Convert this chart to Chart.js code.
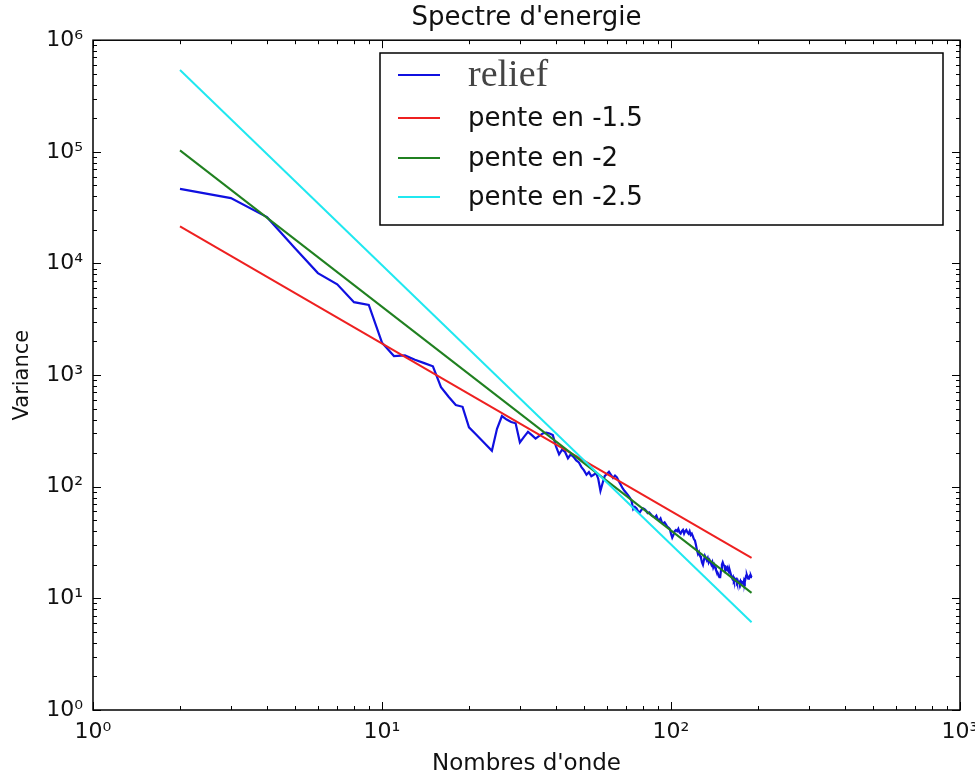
<!DOCTYPE html>
<html>
<head>
<meta charset="utf-8">
<script src="https://cdn.jsdelivr.net/npm/chart.js@4.4.1/dist/chart.umd.min.js"></script>
<style>
  html, body { margin: 0; padding: 0; background: #fff; }
  canvas { display: block; }
</style>
</head>
<body>
<canvas id="spectre" width="975" height="778"></canvas>
<script>
// Spectre du relief : une valeur par nombre d'onde entier, de 2 a 190
const reliefStart = 2;
const reliefValues = [
    46500, 38500, 26000, 13700, 8200, 6500, 4500, 4250, 1950,          // 2-10
    1480, 1500, 1370, 1280, 1200, 780, 640, 540, 520, 340,             // 11-20
    300, 265, 235, 210, 330, 430, 400, 380, 370, 250,                  // 21-30
    280, 310, 290, 270, 285, 300, 305, 300, 290, 230,                  // 31-40
    195, 215, 205, 180, 195, 185, 172, 165, 150, 140,                  // 41-50
    128, 135, 124, 128, 133, 118, 92, 108, 125, 130,                   // 51-60
    136, 128, 120, 126, 121, 112, 104, 97, 92, 88,                     // 61-70
    84, 80, 75, 63, 66, 64, 60, 59, 62, 64,                            // 71-80
    63, 61, 58, 59, 57, 55, 54, 53, 55, 51,                            // 81-90
    50, 52, 48, 47, 48, 46, 44, 43, 42, 38,                            // 91-100
    35, 37, 40, 41, 40, 42, 39, 38, 40, 41,                            // 101-110
    38, 40, 41, 39, 38, 40, 37, 38, 36, 34,                            // 111-120
    33, 30, 27, 25, 26, 24, 23, 21, 20, 22,                            // 121-130
    24, 23, 22, 23, 21, 22, 21, 20, 21, 19,                            // 131-140
    20, 19, 18, 17.5, 17, 16, 15.5, 15.5, 18, 20,                      // 141-150
    21, 20, 19.5, 18, 19, 18.5, 19, 18, 17, 17.5,                      // 151-160
    16.5, 15.5, 15, 15.5, 14.5, 15, 14.5, 14.8, 14, 14.5,              // 161-170
    13.8, 14, 13.5, 14.2, 13.6, 14, 13.8, 13.5, 14.5, 14,              // 171-180
    15, 16, 16.2, 15.5, 15, 15.3, 15.8, 15.5, 16, 15.5                 // 181-190
];

// Droites de reference (extremites)
const penteX = [2, 190];
const pente15 = [21500, 23];
const pente2 = [103000, 11.2];
const pente25 = [540000, 6.1];

const xTicks = [1, 10, 100, 1000];
const yTicks = [1, 10, 100, 1e3, 1e4, 1e5, 1e6];

const sup = { '0': '\u2070', '1': '\u00B9', '2': '\u00B2', '3': '\u00B3', '4': '\u2074', '5': '\u2075', '6': '\u2076' };
function powLabel(v) {
    return '10' + sup[String(Math.round(Math.log10(v)))];
}

function toPoints(xs, ys) {
    return ys.map((y, i) => ({ x: xs[i], y: y }));
}

const reliefPoints = reliefValues.map((v, i) => ({ x: reliefStart + i, y: v }));

// Cadre et graduations vers l'interieur, sur les quatre cotes
const framePlugin = {
    id: 'frame',
    afterDraw(chart) {
        const { ctx, chartArea: a, scales } = chart;
        ctx.save();
        ctx.strokeStyle = '#000';
        ctx.lineWidth = 1;
        const tick = (x1, y1, x2, y2) => {
            ctx.beginPath();
            ctx.moveTo(x1, y1);
            ctx.lineTo(x2, y2);
            ctx.stroke();
        };
        const decades = (ticks, cb) => {
            ticks.forEach((v, i) => {
                cb(v, 8);
                if (i < ticks.length - 1) {
                    for (let m = 2; m <= 9; m++) cb(v * m, 4);
                }
            });
        };
        decades(xTicks, (v, len) => {
            const px = Math.round(scales.x.getPixelForValue(v)) + 0.5;
            tick(px, a.bottom, px, a.bottom - len);
            tick(px, a.top, px, a.top + len);
        });
        decades(yTicks, (v, len) => {
            const py = Math.round(scales.y.getPixelForValue(v)) + 0.5;
            tick(a.left, py, a.left + len, py);
            tick(a.right, py, a.right - len, py);
        });
        ctx.lineWidth = 1.5;
        ctx.strokeRect(a.left, a.top, a.right - a.left, a.bottom - a.top);
        ctx.restore();
    }
};

// Legende encadree en haut a droite
const legendBoxPlugin = {
    id: 'legendBox',
    afterDraw(chart) {
        const ctx = chart.ctx;
        const box = { x: 380, y: 53, w: 563, h: 172 };
        const rows = [75, 118, 158, 197];
        ctx.save();
        ctx.fillStyle = '#fff';
        ctx.fillRect(box.x, box.y, box.w, box.h);
        ctx.lineWidth = 1.5;
        ctx.strokeStyle = '#000';
        ctx.strokeRect(box.x, box.y, box.w, box.h);
        chart.data.datasets.forEach((ds, i) => {
            const y = rows[i];
            ctx.strokeStyle = ds.borderColor;
            ctx.lineWidth = 2;
            ctx.beginPath();
            ctx.moveTo(398, y);
            ctx.lineTo(440, y);
            ctx.stroke();
            ctx.textBaseline = 'middle';
            if (i === 0) {
                ctx.fillStyle = '#444';
                ctx.font = '38px "Liberation Serif", serif';
            } else {
                ctx.fillStyle = '#111';
                ctx.font = '26px "DejaVu Sans", sans-serif';
            }
            ctx.fillText(ds.label, 468, y + 1);
        });
        ctx.restore();
    }
};

const ctx = document.getElementById('spectre');
new Chart(ctx, {
    type: 'line',
    data: {
        datasets: [
            {
                label: 'relief',
                data: reliefPoints,
                borderColor: '#1010e0',
                borderWidth: 2.2,
                order: 3
            },
            {
                label: 'pente en -1.5',
                data: toPoints(penteX, pente15),
                borderColor: '#ee2020',
                borderWidth: 2,
                order: 2
            },
            {
                label: 'pente en -2',
                data: toPoints(penteX, pente2),
                borderColor: '#208020',
                borderWidth: 2,
                order: 1
            },
            {
                label: 'pente en -2.5',
                data: toPoints(penteX, pente25),
                borderColor: '#20e8f0',
                borderWidth: 2,
                order: 0
            }
        ]
    },
    options: {
        responsive: false,
        animation: false,
        layout: {
            padding: { left: 0, right: 15, top: 0, bottom: 0 }
        },
        elements: {
            point: { radius: 0 },
            line: { tension: 0, fill: false }
        },
        plugins: {
            legend: { display: false },
            tooltip: { enabled: false },
            title: {
                display: true,
                fullSize: false,
                text: "Spectre d'energie",
                color: '#111',
                font: { family: '"DejaVu Sans", sans-serif', size: 26, weight: 'normal' },
                padding: { top: 3, bottom: 6 }
            }
        },
        scales: {
            x: {
                type: 'logarithmic',
                min: 1,
                max: 1000,
                grid: { display: false, drawTicks: false },
                border: { display: false },
                afterBuildTicks: (axis) => {
                    axis.ticks = xTicks.map(v => ({ value: v }));
                },
                afterFit: (scale) => {
                    scale.height = 68;
                    scale.paddingLeft = 0;
                    scale.paddingRight = 0;
                },
                ticks: {
                    autoSkip: false,
                    maxRotation: 0,
                    minRotation: 0,
                    padding: 9,
                    color: '#111',
                    font: { family: '"DejaVu Sans", sans-serif', size: 22 },
                    callback: (v) => powLabel(v)
                },
                title: {
                    display: true,
                    text: "Nombres d'onde",
                    color: '#111',
                    font: { family: '"DejaVu Sans", sans-serif', size: 23 },
                    padding: { top: 0, bottom: 0 }
                }
            },
            y: {
                type: 'logarithmic',
                min: 1,
                max: 1e6,
                grid: { display: false, drawTicks: false },
                border: { display: false },
                afterBuildTicks: (axis) => {
                    axis.ticks = yTicks.map(v => ({ value: v }));
                },
                afterFit: (scale) => {
                    scale.width = 93;
                },
                ticks: {
                    autoSkip: false,
                    padding: 10,
                    color: '#111',
                    font: { family: '"DejaVu Sans", sans-serif', size: 22 },
                    callback: (v) => powLabel(v)
                },
                title: {
                    display: true,
                    text: 'Variance',
                    color: '#111',
                    font: { family: '"DejaVu Sans", sans-serif', size: 21 },
                    padding: { top: 10, bottom: 0 }
                }
            }
        }
    },
    plugins: [framePlugin, legendBoxPlugin]
});
</script>
</body>
</html>
